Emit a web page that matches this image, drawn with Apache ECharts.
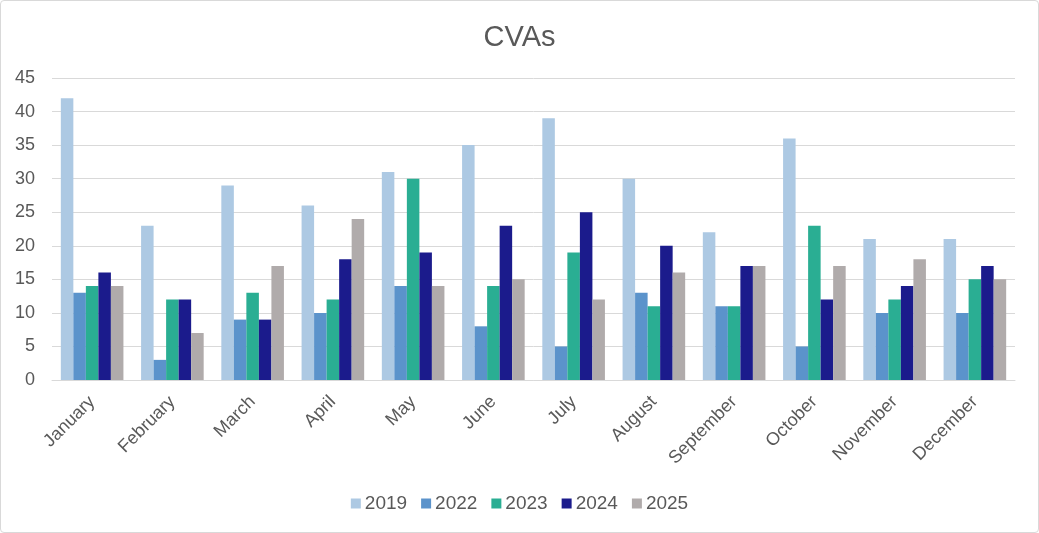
<!DOCTYPE html>
<html><head><meta charset="utf-8">
<script src="https://cdn.jsdelivr.net/npm/echarts@6/dist/echarts.min.js"></script>
<style>
html,body{margin:0;padding:0;background:#fff;}
#c{position:absolute;left:0;top:0;width:1037px;height:531px;border:1px solid #d9d9d9;border-radius:4px;}
</style></head>
<body><div id="c"></div>
<script>
const categories = ["January","February","March","April","May","June","July","August","September","October","November","December"];
const seriesNames = ["2019","2022","2023","2024","2025"];
const v2019 = [42,23,29,26,31,35,39,30,22,36,21,21];
const v2022 = [13,3,9,10,14,8,5,13,11,5,10,10];
const v2023 = [14,12,13,12,30,14,19,11,11,23,12,15];
const v2024 = [16,12,9,18,19,23,25,20,17,12,14,17];
const v2025 = [14,7,17,24,14,15,12,16,17,17,18,15];
const colors = ["#adc9e3","#5b93cb","#2aae93","#1b1b8c","#b0abab"];
const values = [v2019,v2022,v2023,v2024,v2025];

const chart = echarts.init(document.getElementById('c'));
chart.setOption({
  animation:false,
  title:{text:'CVAs',left:'center',top:17,textStyle:{fontFamily:'Liberation Sans',fontSize:29,fontWeight:'normal',color:'#595959'}},
  legend:{bottom:14,left:'center',itemWidth:10,itemHeight:10,itemGap:14,icon:'rect',
    textStyle:{fontFamily:'Liberation Sans',fontSize:19,color:'#595959',padding:[0,0,0,-1]}},
  grid:{left:51,right:23,top:77,bottom:152,containLabel:false},
  xAxis:{type:'category',data:categories,
    axisLine:{lineStyle:{color:'#d9d9d9'}},axisTick:{show:false},
    axisLabel:{rotate:45,interval:0,margin:19,fontFamily:'Liberation Sans',fontSize:18,color:'#595959'}},
  yAxis:{type:'value',min:0,max:45,interval:5,
    axisLine:{show:false},axisTick:{show:false},
    splitLine:{lineStyle:{color:'#d9d9d9',width:1}},
    axisLabel:{margin:17,fontFamily:'Liberation Sans',fontSize:18,color:'#595959'}},
  series: seriesNames.map((n,i)=>({
    name:n,type:'bar',data:values[i],barGap:'0%',barCategoryGap:'22%',
    itemStyle:{color:colors[i]}
  }))
});
</script></body></html>
